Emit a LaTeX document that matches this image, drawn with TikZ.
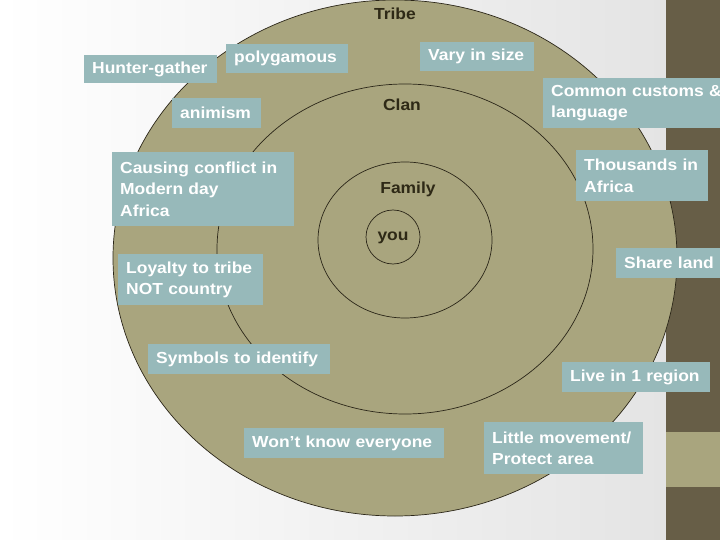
\documentclass[tikz,border=0pt]{standalone}
\usepackage{fontspec}
\setmainfont{Liberation Sans}[FakeStretch=1.09]
\definecolor{boxc}{HTML}{97B9BA}
\definecolor{tanc}{HTML}{A9A57E}
\definecolor{darkc}{HTML}{675E47}
\definecolor{linec}{HTML}{2B2618}
\definecolor{labc}{HTML}{2E2916}
\definecolor{bgr}{HTML}{E4E4E4}
\tikzset{
  infobox/.style={fill=boxc, text=white, font=\fontsize{16}{21.5}\selectfont\bfseries,
    anchor=north west, inner xsep=8pt, inner ysep=0pt, align=left},
  ringlabel/.style={text=labc, font=\fontsize{16}{19}\selectfont\bfseries, inner sep=0pt},
  ring/.style={draw=linec, line width=0.7pt}
}
\begin{document}
\begin{tikzpicture}[x=1pt,y=-1pt]
\useasboundingbox (0,0) rectangle (720,540);
\clip (0,0) rectangle (720,540);
% background
\shade[left color=white, right color=bgr] (0,0) rectangle (666,540);
\fill[darkc] (666,0) rectangle (720,540);
\fill[tanc] (666,432) rectangle (720,487);
% rings
\filldraw[ring, fill=tanc] (395,258) ellipse [x radius=282, y radius=258];
\draw[ring] (405,249) ellipse [x radius=188, y radius=165];
\draw[ring] (405,240) ellipse [x radius=87, y radius=78];
\draw[ring] (393,237) circle [radius=27];
% ring labels
\node[ringlabel] (tribe) at (395,14) {Tribe};
\node[ringlabel] (clan) at (402,105) {Clan};
\node[ringlabel] (family) at (408,189) {Family};
\node[ringlabel] (you) at (393,238) {you};
% info boxes
\node[infobox, text width=117pt, minimum height=28pt] (hunter) at (84,55) {Hunter-gather};
\node[infobox, text width=106pt, minimum height=29pt] (poly) at (226,44) {polygamous};
\node[infobox, text width=73pt, minimum height=30pt] (anim) at (172,98) {animism};
\node[infobox, text width=166pt, minimum height=74pt] (conflict) at (112,152) {Causing conflict in\\Modern day\\Africa};
\node[infobox, text width=129pt, minimum height=51pt] (loyal) at (118,254) {Loyalty to tribe\\NOT country};
\node[infobox, text width=166pt, minimum height=30pt] (symb) at (148,344) {Symbols to identify};
\node[infobox, text width=184pt, minimum height=30pt] (wont) at (244,428) {Won’t know everyone};
\node[infobox, text width=143pt, minimum height=52pt] (little) at (484,422) {Little movement/\\Protect area};
\node[infobox, text width=132pt, minimum height=30pt] (live) at (562,362) {Live in 1 region};
\node[infobox, text width=100pt, minimum height=30pt] (share) at (616,248) {Share land};
\node[infobox, text width=116pt, minimum height=51pt] (thous) at (576,150) {Thousands in\\Africa};
\node[infobox, text width=190pt, minimum height=50pt] (common) at (543,78) {Common customs \&\\language};
\node[infobox, text width=98pt, minimum height=29pt] (vary) at (420,42) {Vary in size};
\end{tikzpicture}
\end{document}
